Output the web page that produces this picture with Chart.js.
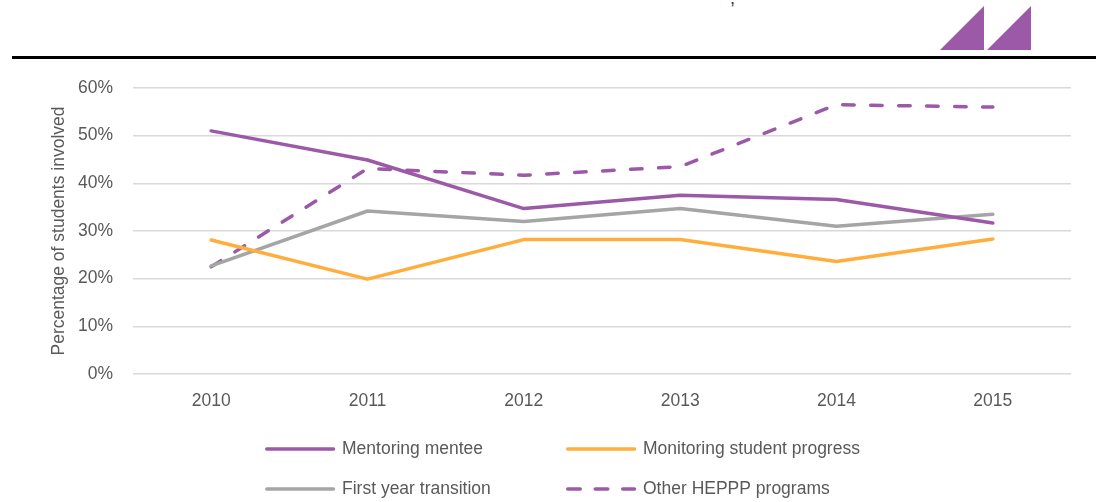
<!DOCTYPE html>
<html>
<head>
<meta charset="utf-8">
<script src="https://cdn.jsdelivr.net/npm/chart.js@4/dist/chart.umd.min.js"></script>
<style>
  html, body { margin: 0; padding: 0; background: #fff; }
  #wrap { position: relative; width: 1096px; height: 502px; overflow: hidden; }
  #header { position: absolute; left: 0; top: 0; }
  #cutText { position: absolute; left: 730px; top: -12px; font: 18px "Liberation Sans", Arial, sans-serif; color: #333; }
  #myChart { position: absolute; left: 0; top: 0; }
</style>
</head>
<body>
<div id="wrap">
  <svg id="header" width="1096" height="70">
    <rect x="12" y="56" width="1084" height="3" fill="#000"></rect>
    <polygon points="940,50 984,6 984,50" fill="#9B59A8"></polygon>
    <polygon points="987,50 1031,6 1031,50" fill="#9B59A8"></polygon>
  </svg>
  <div id="cutText">,</div>
  <canvas id="myChart" width="1096" height="502"></canvas>
</div>
<script>
// Dữ liệu
const years = ["2010", "2011", "2012", "2013", "2014", "2015"];
const mentoringMentee = [51.0, 44.9, 34.7, 37.5, 36.6, 31.7];
const monitoringProgress = [28.1, 19.9, 28.2, 28.2, 23.6, 28.3];
const firstYearTransition = [22.7, 34.2, 32.0, 34.7, 31.0, 33.5];
const otherHeppp = [22.5, 43.1, 41.7, 43.5, 56.5, 56.0];
const yTicks = [0, 10, 20, 30, 40, 50, 60];

const purple = "#9B59A8";
const orange = "#FFAD3B";
const grey = "#A5A5A5";
const textColor = "#595959";

// Dùng font hẹp nếu có, nếu không thì quay về Liberation Sans
let fontFamily = '"Liberation Sans", Arial, sans-serif';
let fontSize = 17.5;
(function pickFont() {
    const c = document.createElement("canvas").getContext("2d");
    c.font = '21px "Liberation Sans"';
    const wide = c.measureText("Mentoring mentee").width;
    c.font = '21px "Liberation Sans Narrow", "Liberation Sans"';
    const narrow = c.measureText("Mentoring mentee").width;
    if (narrow < wide * 0.9) {
        fontFamily = '"Liberation Sans Narrow", "Liberation Sans", sans-serif';
        fontSize = 17.5 * wide / narrow;
    }
})();

// Chú thích vẽ tay: 2 cột, 2 hàng
const legendPlugin = {
    id: "gridLegend",
    afterDraw(chart) {
        const ctx = chart.ctx;
        const cols = [265, 566];
        const rows = [449, 489];
        chart.data.datasets.forEach((ds, i) => {
            const x = cols[i % 2];
            const y = rows[Math.floor(i / 2)];
            ctx.save();
            ctx.strokeStyle = ds.borderColor;
            ctx.lineWidth = 3.5;
            ctx.lineCap = "round";
            ctx.setLineDash(ds.borderDash ? [12.5, 15] : []);
            ctx.beginPath();
            ctx.moveTo(x + 1.75, y);
            ctx.lineTo(x + 68.5, y);
            ctx.stroke();
            ctx.setLineDash([]);
            ctx.fillStyle = textColor;
            ctx.font = fontSize + "px " + fontFamily;
            ctx.textBaseline = "middle";
            ctx.textAlign = "left";
            ctx.fillText(ds.label, x + 77, y);
            ctx.restore();
        });
    }
};

function makeDataset(label, data, color, dashed) {
    return {
        label: label,
        data: data,
        borderColor: color,
        backgroundColor: color,
        borderWidth: 3.5,
        borderCapStyle: "round",
        borderJoinStyle: "round",
        borderDash: dashed ? [11.5, 16.5] : undefined,
        pointRadius: 0,
        tension: 0,
        fill: false
    };
}

const ctx = document.getElementById("myChart").getContext("2d");
const myChart = new Chart(ctx, {
    type: "line",
    data: {
        labels: years,
        datasets: [
            makeDataset("Mentoring mentee", mentoringMentee, purple, false),
            makeDataset("Monitoring student progress", monitoringProgress, orange, false),
            makeDataset("First year transition", firstYearTransition, grey, false),
            makeDataset("Other HEPPP programs", otherHeppp, purple, true)
        ]
    },
    options: {
        responsive: false,
        animation: false,
        layout: { padding: { top: 88, left: 0, right: 25, bottom: 88 } },
        plugins: {
            legend: { display: false },
            tooltip: { enabled: false }
        },
        scales: {
            x: {
                offset: true,
                grid: { display: false, drawTicks: false },
                border: { display: false },
                ticks: {
                    color: textColor,
                    padding: 17,
                    font: { family: fontFamily, size: fontSize }
                },
                afterFit(scale) { scale.height = 40; }
            },
            y: {
                min: 0,
                max: 60,
                afterBuildTicks(scale) { scale.ticks = yTicks.map(v => ({ value: v })); },
                grid: { color: "#D9D9D9", lineWidth: 1.5, drawTicks: false },
                border: { display: false },
                ticks: {
                    color: textColor,
                    padding: 20,
                    font: { family: fontFamily, size: fontSize },
                    callback: v => v + "%"
                },
                title: {
                    display: true,
                    text: "Percentage of students involved",
                    color: textColor,
                    font: { family: fontFamily, size: fontSize },
                    padding: { top: 49, bottom: 0 }
                },
                afterFit(scale) { scale.width = 133; }
            }
        }
    },
    plugins: [legendPlugin]
});
</script>
</body>
</html>
